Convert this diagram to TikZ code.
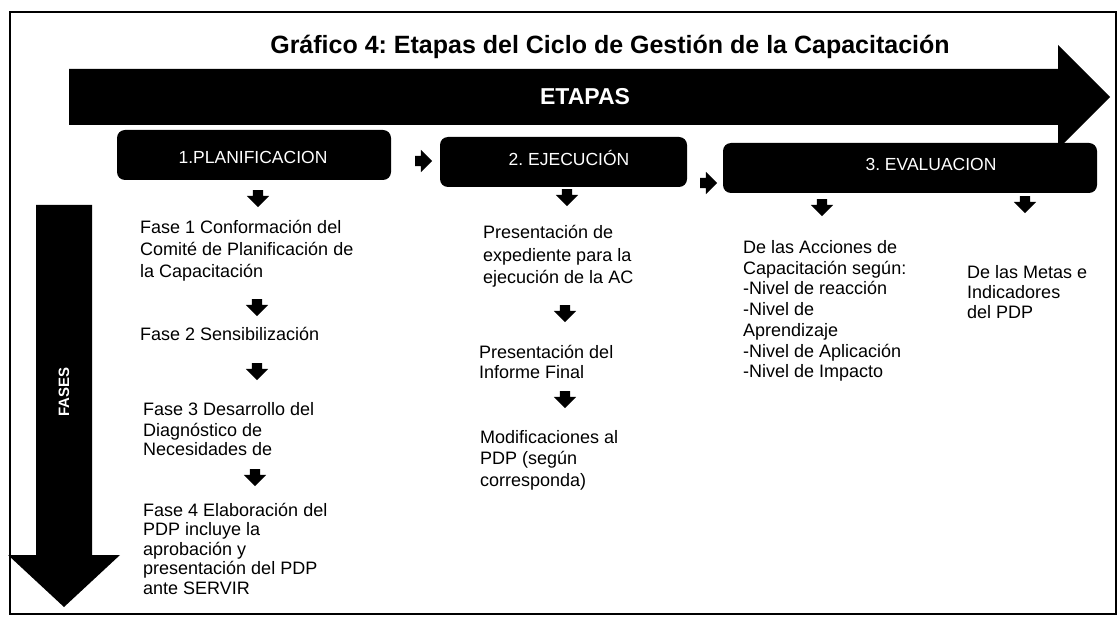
\documentclass[tikz,border=0pt]{standalone}
\usepackage{fontspec}
\setmainfont{Liberation Sans}
\usetikzlibrary{shapes.arrows}
\begin{document}
\frenchspacing
\begin{tikzpicture}[x=1pt,y=-1pt,
  stagebox/.style={fill=black, rounded corners=8pt, inner sep=0pt},
  stagetxt/.style={text=white, font=\fontsize{17.5}{20}\selectfont, inner sep=0pt},
  bodytxt/.style={font=\fontsize{18}{21}\selectfont, align=left, anchor=base west, inner sep=0pt},
  blk/.style={single arrow, fill=black, inner sep=5pt, single arrow head extend=6pt,
              minimum height=17pt, single arrow head indent=0pt},
  dn/.style={blk, rotate=-90},
  rt/.style={blk}]
\useasboundingbox (0,0) rectangle (1120,620);
% frame
\draw[line width=1.5pt] (10,12) rectangle (1116,614);
% title
\node[font=\fontsize{25}{29}\selectfont\bfseries, inner sep=0pt] (title) at (610,47)
  {Gráfico 4: Etapas del Ciclo de Gestión de la Capacitación};
% ETAPAS big arrow
\fill (69,69) -- (1058,69) -- (1058,45) -- (1110,97) -- (1058,149) -- (1058,125) -- (69,125) -- cycle;
\node[text=white, font=\fontsize{23}{26}\selectfont\bfseries, inner sep=0pt] (etapas) at (585,97) {ETAPAS};
% FASES big arrow
\fill (36,205) -- (92,205) -- (92,555) -- (120,555) -- (64,607) -- (8,555) -- (36,555) -- cycle;
\node[text=white, font=\fontsize{15}{18}\selectfont\bfseries, rotate=90, inner sep=0pt] (fases) at (64,392) {FASES};
% stage boxes
\node[stagebox, minimum width=274pt, minimum height=50pt] (plan) at (254,155) {};
\node[stagebox, minimum width=247pt, minimum height=50pt] (ejec) at (563.5,162) {};
\node[stagebox, minimum width=374pt, minimum height=50pt] (eval) at (910,168) {};
\node[stagetxt] (planl) at (253,157) {1.PLANIFICACION};
\node[stagetxt] (ejecl) at (569,158) {2. EJECUCIÓN};
\node[stagetxt] (evall) at (931,164) {3. EVALUACION};
% right arrows between stages
\node[rt] (r1) at (421,161) {};
\node[rt] (r2) at (706,183) {};
% planificacion column (anchor = baseline of last line)
\node[dn] (pa1) at (258,196) {};
\node[bodytxt, font=\fontsize{18}{22}\selectfont] (f1) at (140,278)
  {Fase 1 Conformación del\\Comité de Planificación de\\la Capacitación};
\node[dn] (pa2) at (257,305) {};
\node[bodytxt] (f2) at (140,341) {Fase 2 Sensibilización};
\node[dn] (pa3) at (257,369) {};
\node[bodytxt, font=\fontsize{18}{20}\selectfont] (f3) at (143,456)
  {Fase 3 Desarrollo del\\Diagnóstico de\\Necesidades de};
\node[dn] (pa4) at (255,475) {};
\node[bodytxt, font=\fontsize{18}{19.5}\selectfont] (f4) at (143,594)
  {Fase 4 Elaboración del\\PDP incluye la\\aprobación y\\presentación del PDP\\ante SERVIR};
% ejecucion column
\node[dn] (ea1) at (567,195) {};
\node[bodytxt, font=\fontsize{18}{22.5}\selectfont] (e1) at (483,284)
  {Presentación de\\expediente para la\\ejecución de la AC};
\node[dn] (ea2) at (565,311) {};
\node[bodytxt, font=\fontsize{18}{20}\selectfont] (e2) at (479,379)
  {Presentación del\\Informe Final};
\node[dn] (ea3) at (565,397) {};
\node[bodytxt, font=\fontsize{18}{21.5}\selectfont] (e3) at (480,486)
  {Modificaciones al\\PDP (según\\corresponda)};
% evaluacion column
\node[dn] (va1) at (822,205) {};
\node[dn] (va2) at (1025,202) {};
\node[bodytxt, font=\fontsize{18}{20.8}\selectfont] (v1) at (743,378)
  {De las Acciones de\\Capacitación según:\\-Nivel de reacción\\-Nivel de\\Aprendizaje\\-Nivel de Aplicación\\-Nivel de Impacto};
\node[bodytxt, font=\fontsize{18}{20}\selectfont] (v2) at (967,319)
  {De las Metas e\\Indicadores\\del PDP};
\end{tikzpicture}
\end{document}
